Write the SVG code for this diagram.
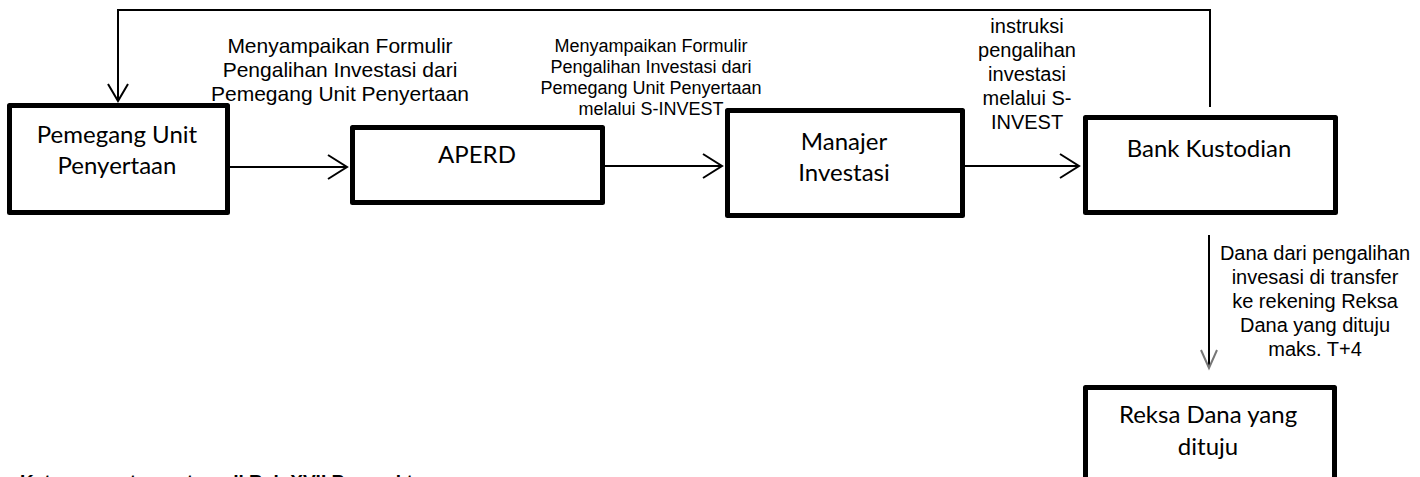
<svg xmlns="http://www.w3.org/2000/svg" width="1420" height="477" viewBox="0 0 1420 477">
<style>
.box{fill:#fff;stroke:#000;stroke-width:5;stroke-linejoin:round}
.nt{font-family:Lato,"Liberation Sans",sans-serif;font-size:24px;fill:#000;text-anchor:middle}
.lb{font-family:"Liberation Sans",Arial,sans-serif;fill:#000;text-anchor:middle}
.ln{fill:none;stroke:#000;stroke-width:2}
</style>
<defs>
<marker id="ah" markerUnits="userSpaceOnUse" viewBox="-25 -15 30 30" markerWidth="30" markerHeight="30" refX="0" refY="0" orient="auto">
<path d="M-19,-12 L0,0 L-19,12" fill="none" stroke="#000" stroke-width="2"/>
</marker>
<marker id="ah2" markerUnits="userSpaceOnUse" viewBox="-25 -15 30 30" markerWidth="30" markerHeight="30" refX="0" refY="0" orient="auto">
<path d="M-17,-10 L0,0 L-17,10" fill="none" stroke="#000" stroke-width="2"/>
</marker>
<marker id="ahg" markerUnits="userSpaceOnUse" viewBox="-25 -15 30 30" markerWidth="30" markerHeight="30" refX="0" refY="0" orient="auto">
<path d="M-18,-8 L0,0 L-18,8" fill="none" stroke="#777" stroke-width="2"/>
</marker>
</defs>
<rect width="1420" height="477" fill="#fff"/>
<g id="connectors">
<polyline class="ln" points="1210,107 1210,10 118,10 118,101" marker-end="url(#ah2)"/>
<line class="ln" x1="230" y1="167" x2="347" y2="167" marker-end="url(#ah)"/>
<line class="ln" x1="605" y1="166" x2="722" y2="166" marker-end="url(#ah)"/>
<line class="ln" x1="965" y1="166" x2="1079" y2="166" marker-end="url(#ah)"/>
<line class="ln" x1="1209" y1="235" x2="1209" y2="368" marker-end="url(#ahg)"/>
</g>
<g id="labels">
<text class="lb" font-size="21" x="340"><tspan x="340" y="53">Menyampaikan Formulir</tspan><tspan x="340" y="77">Pengalihan Investasi dari</tspan><tspan x="340" y="101">Pemegang Unit Penyertaan</tspan></text>
<text class="lb" font-size="18" x="651"><tspan x="651" y="52">Menyampaikan Formulir</tspan><tspan x="651" y="73">Pengalihan Investasi dari</tspan><tspan x="651" y="94">Pemegang Unit Penyertaan</tspan><tspan x="651" y="115">melalui S-INVEST</tspan></text>
<text class="lb" font-size="20" x="1027"><tspan x="1027" y="33">instruksi</tspan><tspan x="1027" y="57">pengalihan</tspan><tspan x="1027" y="81">investasi</tspan><tspan x="1027" y="105">melalui S-</tspan><tspan x="1027" y="129">INVEST</tspan></text>
<text class="lb" font-size="20" x="1315"><tspan x="1315" y="260">Dana dari pengalihan</tspan><tspan x="1315" y="284">invesasi di transfer</tspan><tspan x="1315" y="308">ke rekening Reksa</tspan><tspan x="1315" y="332">Dana yang dituju</tspan><tspan x="1315" y="356">maks. T+4</tspan></text>
<text font-family="Liberation Sans,Arial,sans-serif" font-weight="bold" font-size="19" x="20" y="488">Keterangan tercantum di Bab XVII Prospektus</text>
</g>
<g id="node-pemegang">
<rect class="box" x="9.5" y="105.5" width="218" height="107"/>
<text class="nt"><tspan x="117" y="143">Pemegang Unit</tspan><tspan x="117" y="174">Penyertaan</tspan></text>
</g>
<g id="node-aperd">
<rect class="box" x="352.5" y="127.5" width="250" height="75"/>
<text class="nt" x="477" y="163">APERD</text>
</g>
<g id="node-manajer">
<rect class="box" x="727.5" y="110.5" width="235" height="105"/>
<text class="nt"><tspan x="844" y="150">Manajer</tspan><tspan x="844" y="181">Investasi</tspan></text>
</g>
<g id="node-bank">
<rect class="box" x="1085.5" y="117.5" width="250" height="95"/>
<text class="nt" x="1209" y="157">Bank Kustodian</text>
</g>
<g id="node-reksa">
<rect class="box" x="1085.5" y="387.5" width="249" height="120"/>
<text class="nt"><tspan x="1208" y="423">Reksa Dana yang</tspan><tspan x="1208" y="455">dituju</tspan></text>
</g>
</svg>
